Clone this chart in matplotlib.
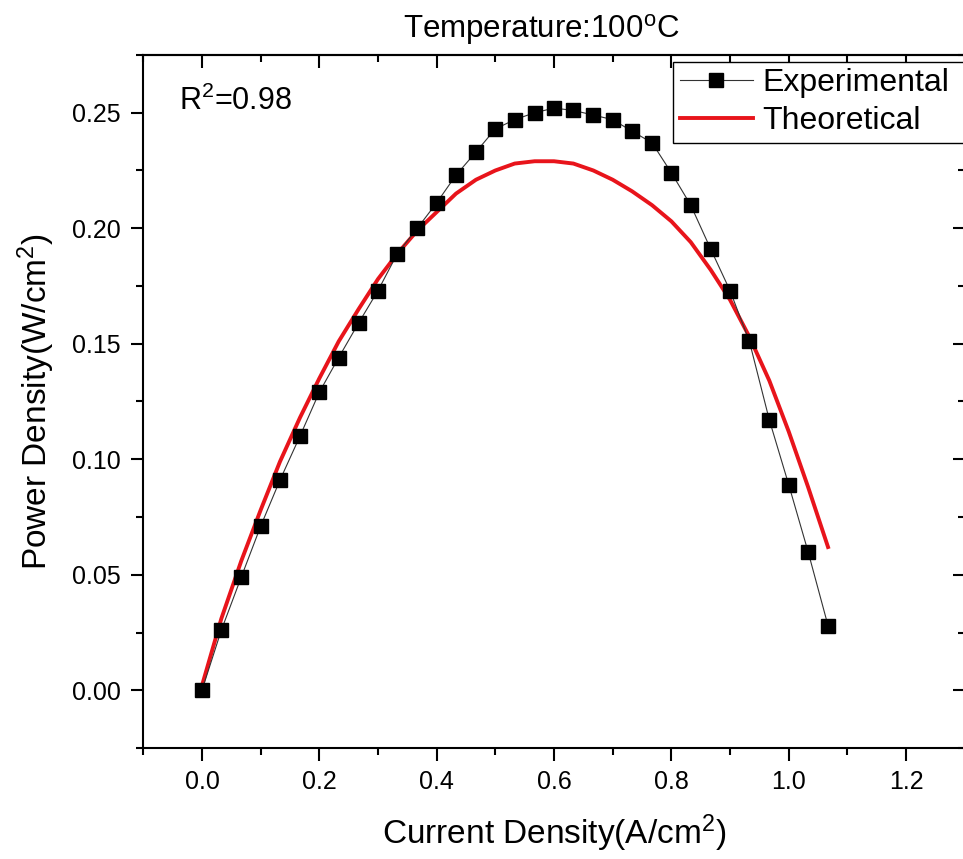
import numpy as np
import matplotlib
matplotlib.use("Agg")
import matplotlib.pyplot as plt
from matplotlib.ticker import MultipleLocator, FormatStrFormatter

plt.rcParams['font.family'] = ['Liberation Sans', 'DejaVu Sans']
plt.rcParams['mathtext.default'] = 'regular'

# current density (A/cm2)
current = [0.000, 0.033, 0.067, 0.100, 0.133, 0.167, 0.200, 0.233, 0.267, 0.300,
           0.333, 0.367, 0.400, 0.433, 0.467, 0.500, 0.533, 0.567, 0.600, 0.633,
           0.667, 0.700, 0.733, 0.767, 0.800, 0.833, 0.867, 0.900, 0.933, 0.967,
           1.000, 1.033, 1.067]
# measured power density (W/cm2)
p_exp = [0.000, 0.026, 0.049, 0.071, 0.091, 0.110, 0.129, 0.144, 0.159, 0.173,
         0.189, 0.200, 0.211, 0.223, 0.233, 0.243, 0.247, 0.250, 0.252, 0.251,
         0.249, 0.247, 0.242, 0.237, 0.224, 0.210, 0.191, 0.173, 0.151, 0.117,
         0.089, 0.060, 0.028]
# model curve (W/cm2)
p_theo = [0.002, 0.031, 0.056, 0.078, 0.099, 0.118, 0.135, 0.151, 0.165, 0.178,
          0.189, 0.199, 0.207, 0.215, 0.221, 0.225, 0.228, 0.229, 0.229, 0.228,
          0.225, 0.221, 0.216, 0.210, 0.203, 0.194, 0.182, 0.169, 0.153, 0.134,
          0.112, 0.088, 0.062]

fig = plt.figure(figsize=(9.63, 8.59), dpi=100)
ax = fig.add_axes([0.1488, 0.1292, 0.853, 0.8068])

ax.plot(current, p_exp, color='#333333', lw=0.8, marker='s', ms=10,
        mfc='black', mec='black', label='Experimental', zorder=3)
ax.plot(current, p_theo, color='#e8141b', lw=2.8, label='Theoretical',
        solid_joinstyle='round', zorder=2)

ax.set_xlim(-0.1, 1.3)
ax.set_ylim(-0.025, 0.275)
ax.xaxis.set_major_locator(MultipleLocator(0.2))
ax.xaxis.set_minor_locator(MultipleLocator(0.1))
ax.yaxis.set_major_locator(MultipleLocator(0.05))
ax.yaxis.set_minor_locator(MultipleLocator(0.025))
ax.xaxis.set_major_formatter(FormatStrFormatter('%.1f'))
ax.yaxis.set_major_formatter(FormatStrFormatter('%.2f'))

for s in ax.spines.values():
    s.set_linewidth(1.5)
ax.tick_params(which='both', direction='out', width=1.5, labelsize=18,
               top=False, right=False)
ax.tick_params(which='major', length=9, pad=7)
ax.tick_params(which='minor', length=5)

# mirrored ticks pointing inward on top and right
top = ax.secondary_xaxis('top')
right = ax.secondary_yaxis('right')
for sec in (top, right):
    sec.tick_params(which='both', direction='in', width=1.5,
                    labeltop=False, labelright=False)
    sec.tick_params(which='major', length=9)
    sec.tick_params(which='minor', length=5)
    for s in sec.spines.values():
        s.set_linewidth(1.5)
top.xaxis.set_major_locator(MultipleLocator(0.2))
top.xaxis.set_minor_locator(MultipleLocator(0.1))
right.yaxis.set_major_locator(MultipleLocator(0.05))
right.yaxis.set_minor_locator(MultipleLocator(0.025))
top.set_xticklabels([])
right.set_yticklabels([])

ax.set_xlabel('Current Density(A/cm$^{2}$)', fontsize=24, labelpad=13)
ax.set_ylabel('Power Density(W/cm$^{2}$)', fontsize=24, labelpad=11)

fig.text(541 / 963, 1 - 38 / 859, 'Temperature:100$^{o}$C', fontsize=22.5,
         ha='center', va='baseline')
ax.text(0.043, 0.921, 'R$^{2}$=0.98', fontsize=22, transform=ax.transAxes,
        va='baseline')

leg = ax.legend(loc='upper left', bbox_to_anchor=(0.645, 0.99, 0.37, 0),
                mode='expand', fontsize=23,
                frameon=True, fancybox=False, framealpha=1, edgecolor='black',
                borderpad=0.2, handlelength=2.3, handletextpad=0.3,
                labelspacing=0.25, borderaxespad=0, numpoints=1)
leg.get_frame().set_linewidth(1.0)

fig.savefig('out.png', dpi=100)
